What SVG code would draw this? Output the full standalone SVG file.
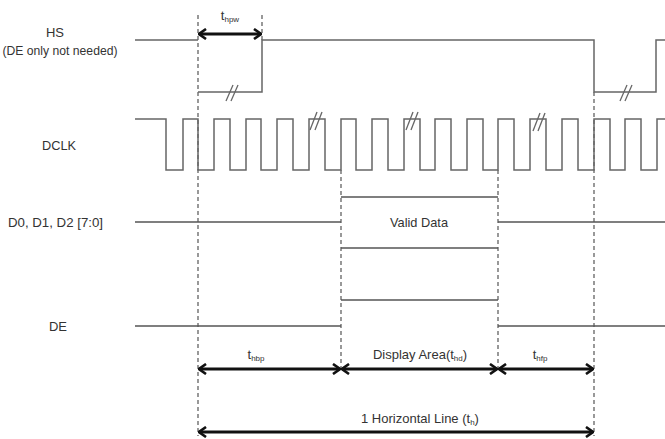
<svg xmlns="http://www.w3.org/2000/svg" width="665" height="439" viewBox="0 0 665 439">
<style>
.bg{fill:#ffffff}
.sig{fill:none;stroke:#666;stroke-width:1.5}
.bus{fill:none;stroke:#555;stroke-width:1.7}
.guide{fill:none;stroke:#555;stroke-width:1.2;stroke-dasharray:4 3}
.brk{stroke:#666;stroke-width:1.3}
.arr{stroke:#111;stroke-width:3;marker-start:url(#ah);marker-end:url(#ah)}
.lbl{font-family:"Liberation Sans",Arial,sans-serif;font-size:13px;fill:#333}
.sub{font-size:8px}
</style>
<defs>
<marker id="ah" viewBox="0 0 10 12" refX="9" refY="6" markerWidth="10" markerHeight="12" markerUnits="userSpaceOnUse" orient="auto-start-reverse">
<path d="M2,1 L9,6 L2,11" fill="none" stroke="#111" stroke-width="2.6"/>
</marker>
</defs>
<rect class="bg" x="0" y="0" width="665" height="439"/>

<g id="guides">
<line class="guide" x1="198" y1="15" x2="198" y2="436"/>
<line class="guide" x1="262" y1="15" x2="262" y2="40"/>
<line class="guide" x1="341" y1="170" x2="341" y2="369"/>
<line class="guide" x1="498" y1="170" x2="498" y2="369"/>
<line class="guide" x1="594" y1="92" x2="594" y2="436"/>
</g>

<g id="hs">
<text class="lbl" x="55" y="37" text-anchor="middle">HS</text>
<text class="lbl" x="60" y="55" text-anchor="middle" textLength="115" lengthAdjust="spacingAndGlyphs">(DE only not needed)</text>
<path class="sig" d="M135,40 H198 M198,92 H262 V40 H594 V92 H656 V40 H665"/>
<g class="brk">
<line x1="226" y1="101" x2="233" y2="85"/>
<line x1="231" y1="101" x2="238" y2="85"/>
<line x1="620" y1="101" x2="627" y2="85"/>
<line x1="625" y1="101" x2="632" y2="85"/>
</g>
</g>

<g id="dclk">
<text class="lbl" x="59" y="150" text-anchor="middle" textLength="34" lengthAdjust="spacingAndGlyphs">DCLK</text>
<path class="sig" d="M135,119 H166 V170 H183 V119 H198 V170 H214 V119 H230 V170 H246 V119 H261 V170 H277 V119 H293 V170 H309 V119 H325 V170 H341 V119 H356 V170 H372 V119 H388 V170 H404 V119 H420 V170 H435 V119 H451 V170 H467 V119 H483 V170 H498 V119 H514 V170 H530 V119 H546 V170 H562 V119 H578 V170 H594 V119 H610 V170 H625 V119 H641 V170 H657 V119 H665"/>
<g class="brk">
<line x1="310" y1="130" x2="317" y2="112"/>
<line x1="315" y1="130" x2="322" y2="112"/>
<line x1="406" y1="130" x2="413" y2="112"/>
<line x1="411" y1="130" x2="418" y2="112"/>
<line x1="533" y1="131" x2="540" y2="113"/>
<line x1="538" y1="131" x2="545" y2="113"/>
</g>
</g>

<g id="data">
<text class="lbl" x="8" y="227" textLength="95" lengthAdjust="spacingAndGlyphs">D0, D1, D2 [7:0]</text>
<path class="bus" d="M135,222 H341 M341,197 H498 M341,248 H498 M498,222 H665"/>
<text class="lbl" x="419" y="227" text-anchor="middle" textLength="58" lengthAdjust="spacingAndGlyphs">Valid Data</text>
</g>

<g id="de">
<text class="lbl" x="58" y="331" text-anchor="middle">DE</text>
<path class="bus" d="M135,326 H341 M341,300 H498 M498,326 H665"/>
</g>

<g id="connectors">
<line class="arr" x1="199" y1="34" x2="261" y2="34"/>
<line class="arr" x1="199" y1="369" x2="340" y2="369"/>
<line class="arr" x1="342" y1="369" x2="497" y2="369"/>
<line class="arr" x1="499" y1="369" x2="593" y2="369"/>
<line class="arr" x1="199" y1="432" x2="593" y2="432"/>
</g>

<g id="labels">
<text class="lbl" x="230" y="20" text-anchor="middle">t<tspan class="sub" dy="2">hpw</tspan></text>
<text class="lbl" x="256" y="359" text-anchor="middle">t<tspan class="sub" dy="2">hbp</tspan></text>
<text class="lbl" x="420" y="359" text-anchor="middle">Display Area(t<tspan class="sub" dy="2">hd</tspan><tspan dy="-2">)</tspan></text>
<text class="lbl" x="540" y="359" text-anchor="middle">t<tspan class="sub" dy="2">hfp</tspan></text>
<text class="lbl" x="420" y="423" text-anchor="middle">1 Horizontal Line (t<tspan class="sub" dy="2">h</tspan><tspan dy="-2">)</tspan></text>
</g>
</svg>
